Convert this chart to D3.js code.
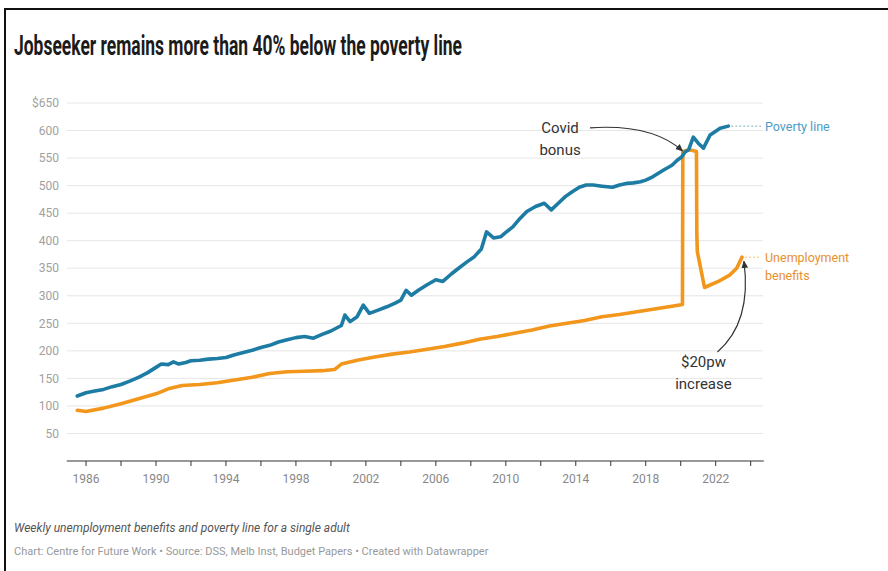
<!DOCTYPE html>
<html>
<head>
<meta charset="utf-8">
<script src="https://cdn.jsdelivr.net/npm/d3@7/dist/d3.min.js"></script>
<style>
  html, body { margin: 0; padding: 0; background: #fff; }
  svg { display: block; font-family: Roboto, "Noto Sans", sans-serif; }
</style>
</head>
<body>
<svg id="chart" width="888" height="571"></svg>
<script>
// Weekly poverty line for a single adult ($ per week), by fractional year
const povertyYears = [
  1985.5, 1986.0, 1986.5, 1987.0, 1987.5, 1988.0, 1988.5, 1989.0, 1989.5, 1990.0,
  1990.3, 1990.7, 1991.0, 1991.3, 1991.7, 1992.0, 1992.5, 1993.0, 1993.5, 1994.0,
  1994.5, 1995.0, 1995.5, 1996.0, 1996.5, 1997.0, 1997.5, 1998.0, 1998.5, 1999.0,
  1999.5, 2000.0, 2000.3, 2000.6, 2000.8, 2001.1, 2001.5, 2001.85, 2002.2, 2002.7,
  2003.2, 2003.7, 2004.0, 2004.3, 2004.6, 2005.0, 2005.5, 2006.0, 2006.4, 2006.9,
  2007.3, 2007.8, 2008.2, 2008.6, 2008.9, 2009.3, 2009.7, 2010.0, 2010.4, 2010.8,
  2011.2, 2011.7, 2012.2, 2012.6, 2013.0, 2013.4, 2013.8, 2014.2, 2014.6, 2015.0,
  2015.5, 2016.1, 2016.5, 2016.9, 2017.3, 2017.7, 2018.0, 2018.4, 2019.0, 2019.5,
  2019.8, 2020.05, 2020.25, 2020.45, 2020.72, 2021.0, 2021.3, 2021.68, 2021.96, 2022.25,
  2022.72
];
const povertyValues = [
  118, 124, 127, 130, 135, 139, 145, 152, 160, 170,
  176, 175, 180, 176, 179, 182, 183, 185, 186, 188,
  193, 197, 201, 206, 210, 216, 220, 224, 226, 223,
  230, 236, 241, 246, 265, 253, 262, 283, 268, 274,
  280, 287, 292, 310, 301, 310, 320, 329, 326, 340,
  350, 362, 371, 385, 416, 405, 407, 415, 425, 440,
  453, 462, 468, 456, 468, 480, 489, 497, 501, 501,
  499, 497, 501, 504, 505, 507, 510, 516, 528, 537,
  546, 552, 561, 565, 588, 577, 568, 592, 598, 604,
  608
];

// Weekly unemployment benefit for a single adult ($ per week)
const benefitYears = [
  1985.5, 1986.0, 1987.0, 1988.0, 1989.0, 1990.0, 1990.7, 1991.5, 1992.5, 1993.5,
  1994.5, 1995.5, 1996.5, 1997.5, 1998.5, 1999.5, 2000.2, 2000.6, 2001.5, 2002.5,
  2003.5, 2004.5, 2005.5, 2006.5, 2007.5, 2008.5, 2009.5, 2010.5, 2011.5, 2012.5,
  2013.5, 2014.5, 2015.5, 2016.5, 2017.5, 2018.5, 2019.5, 2020.1, 2020.12, 2020.5,
  2020.9, 2020.92, 2020.95, 2021.36, 2022.15, 2022.82, 2023.2, 2023.5
];
const benefitValues = [
  92, 90, 96, 104, 113, 122, 131, 137, 139, 142,
  147, 152, 159, 162, 163, 164, 166, 176, 183, 189,
  194, 198, 203, 208, 214, 221, 226, 232, 238, 245,
  250, 255, 262, 266, 271, 276, 281, 284, 562, 565,
  562, 414, 380, 315, 326, 338, 350, 370
];

const yTicks = [50, 100, 150, 200, 250, 300, 350, 400, 450, 500, 550, 600, 650];
const xTickYears = [1986, 1988, 1990, 1992, 1994, 1996, 1998, 2000, 2002, 2004,
  2006, 2008, 2010, 2012, 2014, 2016, 2018, 2020, 2022, 2024];
const xLabelYears = [1986, 1990, 1994, 1998, 2002, 2006, 2010, 2014, 2018, 2022];

const titleText = "Jobseeker remains more than 40% below the poverty line";
const subtitleText = "Weekly unemployment benefits and poverty line for a single adult";
const creditText = "Chart: Centre for Future Work \u2022 Source: DSS, Melb Inst, Budget Papers \u2022 Created with Datawrapper";

const BLUE = "#1d7ca4";
const ORANGE = "#f2961c";

const svg = d3.select("#chart");

// frame
svg.append("line").attr("x1", 5).attr("x2", 5).attr("y1", 9).attr("y2", 571)
  .attr("stroke", "#111").attr("stroke-width", 2);
svg.append("line").attr("x1", 4).attr("x2", 888).attr("y1", 9).attr("y2", 9)
  .attr("stroke", "#111").attr("stroke-width", 2);

// title
svg.append("text")
  .attr("x", 14).attr("y", 55)
  .attr("font-size", 28).attr("font-weight", 700).attr("fill", "#1b1b1b")
  .attr("textLength", 448).attr("lengthAdjust", "spacingAndGlyphs")
  .text(titleText);

const x = d3.scaleLinear().domain([1984.9, 2024.75]).range([66.8, 763.8]);
const y = d3.scaleLinear().domain([0, 650]).range([461, 103]);

// gridlines
svg.append("g").selectAll("line").data(yTicks).join("line")
  .attr("x1", 67).attr("x2", 763)
  .attr("y1", d => y(d)).attr("y2", d => y(d))
  .attr("stroke", "#e6e6e6").attr("stroke-width", 1);

// y labels
svg.append("g").selectAll("text").data(yTicks).join("text")
  .attr("x", 59).attr("y", d => y(d)).attr("dy", "0.35em")
  .attr("text-anchor", "end").attr("font-size", 12).attr("fill", "#a0a0a0")
  .text(d => d === 650 ? "$" + d : d);

// x axis
const xAxisG = svg.append("g").attr("transform", `translate(0,${y(0)})`);
xAxisG.append("line").attr("x1", x.range()[0]).attr("x2", x.range()[1])
  .attr("stroke", "#333").attr("stroke-width", 1.2);
xAxisG.selectAll("line.tick").data(xTickYears).join("line").attr("class", "tick")
  .attr("x1", d => x(d)).attr("x2", d => x(d)).attr("y1", 0).attr("y2", 5)
  .attr("stroke", "#333").attr("stroke-width", 1);
xAxisG.selectAll("text").data(xLabelYears).join("text")
  .attr("x", d => x(d)).attr("y", 22)
  .attr("text-anchor", "middle").attr("font-size", 12).attr("fill", "#888")
  .text(d => d);

// series
const line = d3.line().x(d => x(d[0])).y(d => y(d[1]));
const benefit = benefitYears.map((t, i) => [t, benefitValues[i]]);
const poverty = povertyYears.map((t, i) => [t, povertyValues[i]]);

svg.append("path").datum(benefit)
  .attr("d", line).attr("fill", "none").attr("stroke", ORANGE)
  .attr("stroke-width", 3.6).attr("stroke-linejoin", "round").attr("stroke-linecap", "round");
svg.append("path").datum(poverty)
  .attr("d", line).attr("fill", "none").attr("stroke", BLUE)
  .attr("stroke-width", 3.6).attr("stroke-linejoin", "round").attr("stroke-linecap", "round");

// direct labels with dotted leaders
const lastP = poverty[poverty.length - 1];
const lastB = benefit[benefit.length - 1];
svg.append("line").attr("x1", x(lastP[0]) + 3).attr("x2", 761)
  .attr("y1", y(lastP[1])).attr("y2", y(lastP[1]))
  .attr("stroke", BLUE).attr("stroke-width", 1).attr("stroke-dasharray", "2,2").attr("opacity", 0.6);
svg.append("text").attr("x", 765).attr("y", y(lastP[1])).attr("dy", "0.35em")
  .attr("font-size", 12.5).attr("fill", "#4a9cc6").text("Poverty line");

svg.append("line").attr("x1", x(lastB[0]) + 3).attr("x2", 761)
  .attr("y1", y(lastB[1])).attr("y2", y(lastB[1]))
  .attr("stroke", ORANGE).attr("stroke-width", 1).attr("stroke-dasharray", "2,2").attr("opacity", 0.6);
const ubText = svg.append("text").attr("x", 765).attr("y", y(lastB[1])).attr("dy", "0.35em")
  .attr("font-size", 12.5).attr("fill", "#e8912c");
ubText.append("tspan").attr("x", 765).text("Unemployment");
ubText.append("tspan").attr("x", 765).attr("dy", "1.5em").text("benefits");

// annotations
const defs = svg.append("defs");
defs.append("marker").attr("id", "arrow").attr("viewBox", "0 0 10 10")
  .attr("refX", 8).attr("refY", 5).attr("markerWidth", 7).attr("markerHeight", 7)
  .attr("orient", "auto-start-reverse")
  .append("path").attr("d", "M0,1 L9,5 L0,9 Z").attr("fill", "#333");

function annot(lines, cx, cyTop) {
  const t = svg.append("text").attr("text-anchor", "middle")
    .attr("font-size", 15).attr("fill", "#333");
  lines.forEach((s, i) => t.append("tspan").attr("x", cx).attr("y", cyTop + i * 22).text(s));
}

// Covid bonus
annot(["Covid", "bonus"], x(2013.1), y(595));
{
  const sx = x(2013.1) + 30, sy = y(605);
  const ex = x(2020.1), ey = y(563);
  svg.append("path")
    .attr("d", `M${sx},${sy} Q${ex - 30},${sy - 4} ${ex},${ey}`)
    .attr("fill", "none").attr("stroke", "#333").attr("stroke-width", 1.2)
    .attr("marker-end", "url(#arrow)");
}

// $20pw increase
annot(["$20pw", "increase"], x(2021.3), y(170));
{
  const ex = x(lastB[0]) + 2, ey = y(lastB[1]) + 4;
  const sx = x(2022.1), sy = y(198);
  svg.append("path")
    .attr("d", `M${sx},${sy} Q${ex + 8},${sy - 30} ${ex},${ey}`)
    .attr("fill", "none").attr("stroke", "#333").attr("stroke-width", 1.2)
    .attr("marker-end", "url(#arrow)");
}

// footer
svg.append("text").attr("x", 14).attr("y", 532)
  .attr("font-size", 12).attr("font-style", "italic").attr("fill", "#555")
  .text(subtitleText);
svg.append("text").attr("x", 14).attr("y", 555)
  .attr("font-size", 11).attr("fill", "#999")
  .text(creditText);
</script>
</body>
</html>
